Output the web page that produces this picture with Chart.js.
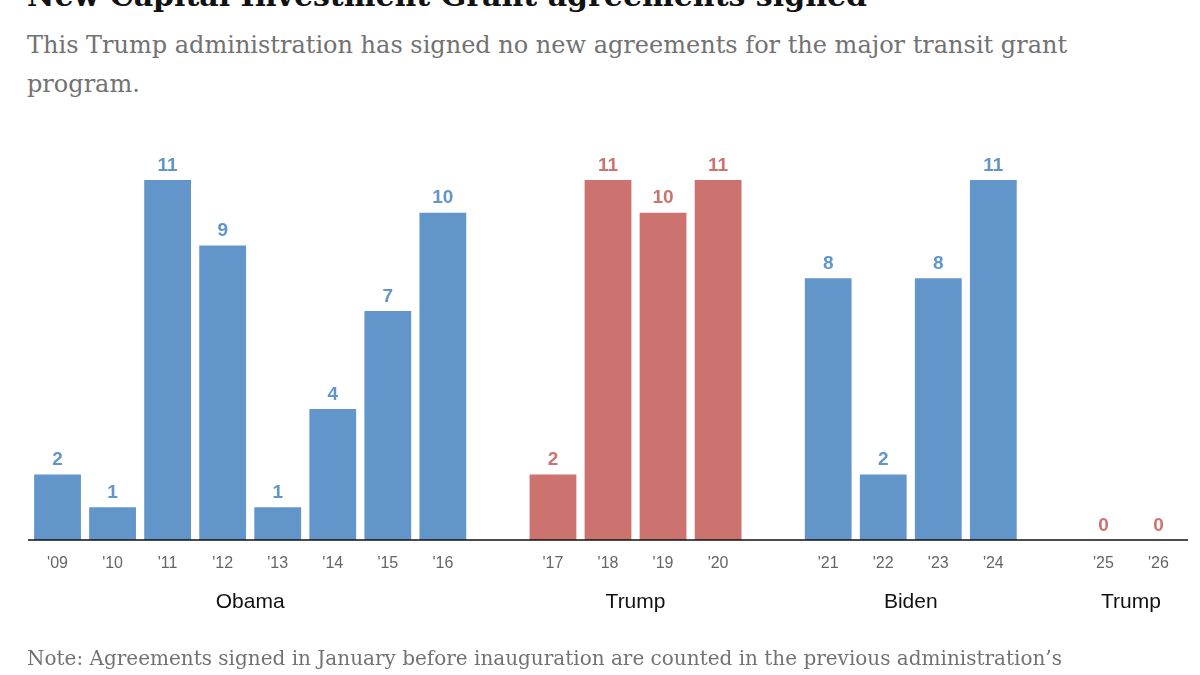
<!DOCTYPE html>
<html><head><meta charset="utf-8">
<script src="https://cdn.jsdelivr.net/npm/chart.js@4"></script>
<style>
body{margin:0;width:1200px;height:675px;overflow:hidden;background:#fff;position:relative}
.t{position:absolute;left:27px;white-space:nowrap}
#title{top:-22px;font:bold 30px "DejaVu Serif",serif;color:#121212}
#sub{top:26px;font:24px/39px "DejaVu Serif",serif;color:#727272;white-space:normal;width:1130px}
#note{top:646px;font:20px "DejaVu Serif",serif;color:#727272}
canvas{position:absolute;left:0;top:0}
</style></head><body>
<div class="t" id="title">New Capital Investment Grant agreements signed</div>
<div class="t" id="sub">This Trump administration has signed no new agreements for the major transit grant program.</div>
<canvas id="c" width="1200" height="675"></canvas>
<div class="t" id="note">Note: Agreements signed in January before inauguration are counted in the previous administration’s</div>
<script>
// empty strings are spacers between administrations
const years = ["'09","'10","'11","'12","'13","'14","'15","'16","","'17","'18","'19","'20","","'21","'22","'23","'24","","'25","'26"];
const agreements = [2,1,11,9,1,4,7,10,null,2,11,10,11,null,8,2,8,11,null,0,0];
const party = ["D","D","D","D","D","D","D","D","","R","R","R","R","","D","D","D","D","","R","R"];
const admins = [["Obama",0,7],["Trump",9,12],["Biden",14,17],["Trump",19,20]];
const colors = {D:"#6295c9", R:"#cc7370"};

const labels = {
  id: "labels",
  afterDatasetsDraw(chart) {
    const c = chart.ctx, x = chart.scales.x, y = chart.scales.y;
    const base = y.getPixelForValue(0);
    c.save();
    c.strokeStyle = "#111"; c.lineWidth = 1.5;
    c.beginPath(); c.moveTo(28, base); c.lineTo(1188, base); c.stroke();
    c.textAlign = "center";
    agreements.forEach((v, i) => {
      if (v === null) return;
      const px = x.getPixelForValue(i);
      c.fillStyle = colors[party[i]];
      c.font = "bold 19px 'Liberation Sans', Arial, sans-serif";
      c.textBaseline = "bottom";
      c.fillText(v, px, y.getPixelForValue(v) - 5);
      c.fillStyle = "#666";
      c.font = "16px 'Liberation Sans', Arial, sans-serif";
      c.textBaseline = "middle";
      c.fillText(years[i], px, base + 24);
    });
    c.fillStyle = "#111";
    c.font = "21px 'Liberation Sans', Arial, sans-serif";
    admins.forEach(([name, a, b]) => {
      c.fillText(name, (x.getPixelForValue(a) + x.getPixelForValue(b)) / 2, base + 62);
    });
    c.restore();
  }
};

new Chart(document.getElementById("c"), {
  type: "bar",
  data: {
    labels: years,
    datasets: [{
      data: agreements,
      backgroundColor: party.map(p => colors[p] || "#fff"),
      barPercentage: 0.85,
      categoryPercentage: 1
    }]
  },
  options: {
    responsive: false,
    animation: false,
    layout: {padding: {top: 180, bottom: 135, left: 30, right: 14}},
    plugins: {legend: {display: false}, tooltip: {enabled: false}},
    scales: {
      x: {display: false},
      y: {display: false, min: 0, max: 11}
    }
  },
  plugins: [labels]
});
</script>
</body></html>
